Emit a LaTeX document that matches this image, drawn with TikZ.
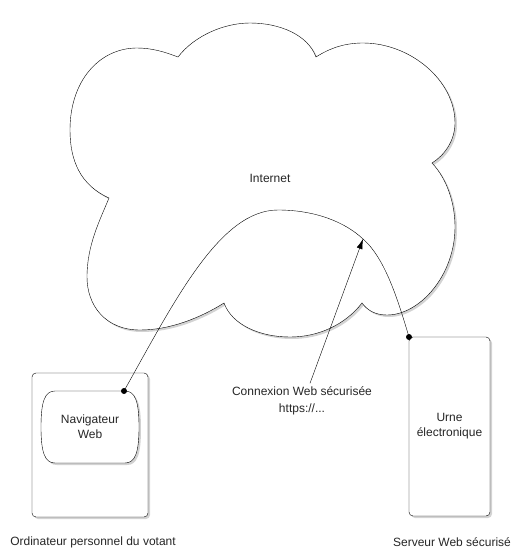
\documentclass[tikz,border=0pt]{standalone}
\usepackage{fontspec}
\setmainfont{Liberation Sans}
\usetikzlibrary{shadows,arrows.meta}

\begin{document}
\begin{tikzpicture}
  [x=1pt,y=-1pt,
   every node/.style={font=\fontsize{12}{15}\selectfont,text=black!85},
   cloud/.style={draw=black,fill=white,thin,
                 drop shadow={shadow xshift=2pt,shadow yshift=-2pt,opacity=0.35}},
   machine/.style={rectangle,rounded corners=4pt,draw=black,fill=white,thin,
                   outer sep=0,drop shadow={shadow xshift=2pt,shadow yshift=-2pt,opacity=0.35}},
   program/.style={rectangle,align=center,outer sep=0,minimum width=98,minimum height=72},
   dot/.style={circle,fill=black,inner sep=0,minimum size=6pt}]
  \useasboundingbox (0,0) rectangle (521,557);
  % nuage
  \path[cloud] (109,198) .. controls (80,185) and (70,160) .. (70,130)
    .. controls (70,80) and (100,48) .. (137,48)
    .. controls (152,48) and (165,52) .. (178,57)
    .. controls (195,35) and (225,23) .. (250,23)
    .. controls (280,23) and (308,35) .. (316,57)
    .. controls (330,48) and (345,43) .. (363,43)
    .. controls (410,43) and (455,80) .. (455,123)
    .. controls (455,140) and (445,155) .. (432,163)
    .. controls (448,180) and (455,205) .. (455,227)
    .. controls (455,275) and (420,315) .. (387,315)
    .. controls (375,315) and (367,310) .. (362,303)
    .. controls (345,325) and (318,337) .. (290,337)
    .. controls (260,337) and (232,325) .. (224,303)
    .. controls (200,318) and (170,330) .. (140,330)
    .. controls (105,330) and (87,305) .. (87,277)
    .. controls (87,245) and (100,220) .. (109,198) -- cycle;
  \node (internet) at (270,178) {Internet};
  \node[machine,minimum width=116,minimum height=144] (pc) at (90,445) {};
  \node[program] (nav) at (90,427) {};
  \path[cloud] ([xshift=14pt]nav.north west) -- ([xshift=-14pt]nav.north east)
    .. controls +(10,0) and +(0,-26) .. (nav.east)
    .. controls +(0,26) and +(10,0) .. ([xshift=-14pt]nav.south east)
    -- ([xshift=14pt]nav.south west)
    .. controls +(-10,0) and +(0,26) .. (nav.west)
    .. controls +(0,-26) and +(-10,0) .. cycle;
  \node[align=center] (navlabel) at (nav) {Navigateur\\Web};
  \node[machine,minimum width=81,minimum height=179,align=center] (urne) at (449.5,426.5)
       {Urne\\électronique};
  \node (pclabel) at (93,542) {Ordinateur personnel du votant};
  \node (urnelabel) at (452,542) {Serveur Web sécurisé};
  \node[align=center] (conn) at (302,401) {Connexion Web sécurisée\\[2pt]https://...};
  \coordinate (navdot) at ([xshift=34pt]nav.north);
  \coordinate (urnedot) at (urne.north west);
  \coordinate (tip) at (363,239);
  \draw[thin] (navdot) .. controls (175,300) and (220,210) .. (278,210)
    .. controls (315,210) and (345,222) .. (tip)
    .. controls (385,258) and (398,300) .. (urnedot);
  \draw[thin,-{Latex[length=10pt,width=6pt]}] ([xshift=8pt]conn.north) to (tip);
  \node[dot] (navend) at (navdot) {};
  \node[dot] (urneend) at (urnedot) {};
\end{tikzpicture}
\end{document}
